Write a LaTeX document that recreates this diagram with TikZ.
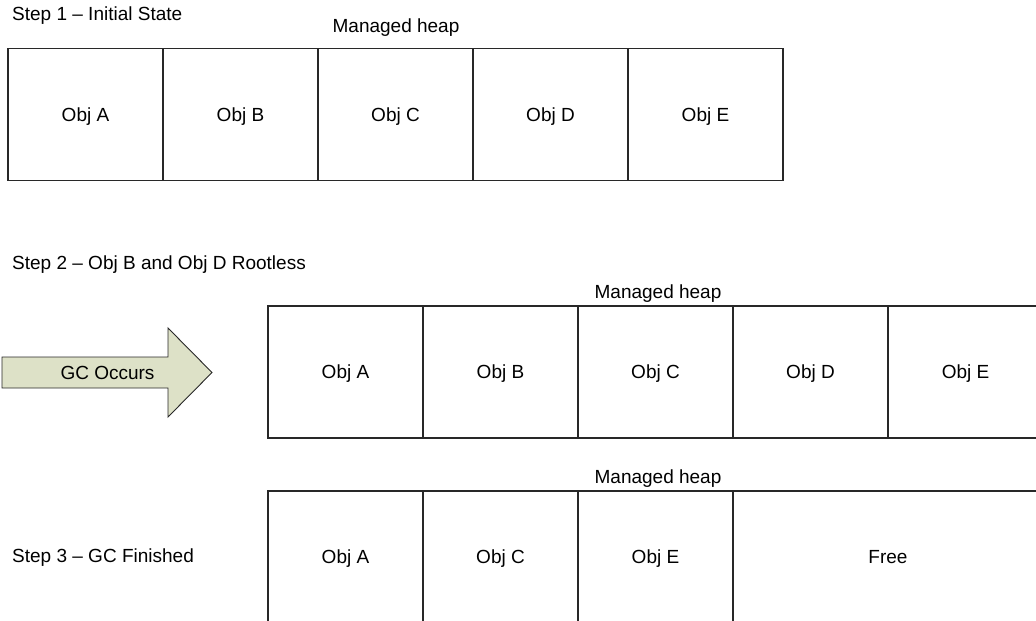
\documentclass[tikz,border=0pt]{standalone}
\usepackage{fontspec}
\setmainfont{Liberation Sans}
\definecolor{arrowfill}{RGB}{221,225,199}
\definecolor{edgegray}{RGB}{40,40,40}
\begin{document}
\begin{tikzpicture}[x=1pt,y=-1pt,
  font=\fontsize{19}{23}\selectfont,
  cell/.style={draw=edgegray, line width=1.1pt, anchor=north west,
    minimum width=155pt, minimum height=132pt, inner sep=0pt, outer sep=0pt,
    text height=13.4pt, text depth=0pt},
  wide/.style={cell, minimum width=310pt},
  heading/.style={anchor=base, inner sep=0pt},
  steplabel/.style={anchor=base west, inner sep=0pt}]
\useasboundingbox (0,0) rectangle (1036,621);
\clip (0,0) rectangle (1036,621);

% Step 1: heap before collection
\node[steplabel] (s1) at (12,20.7) {Step 1 – Initial State};
\node[heading] (h1) at (396,32.3) {Managed heap};
\node[cell] (a1) at (8,48.5)  {Obj A};
\node[cell] (b1) at (163,48.5) {Obj B};
\node[cell] (c1) at (318,48.5) {Obj C};
\node[cell] (d1) at (473,48.5) {Obj D};
\node[cell] (e1) at (628,48.5) {Obj E};

% Step 2: B and D have no roots
\node[steplabel] (s2) at (12,269.3) {Step 2 – Obj B and Obj D Rootless};
\node[heading] (h2) at (658,298.3) {Managed heap};
\node[cell] (a2) at (268,306) {Obj A};
\node[cell] (b2) at (423,306) {Obj B};
\node[cell] (c2) at (578,306) {Obj C};
\node[cell] (d2) at (733,306) {Obj D};
\node[cell] (e2) at (888,306) {Obj E};

% block arrow
\draw[draw=edgegray, line width=0.9pt, fill=arrowfill, line join=miter]
  (2,357) -- (168,357) -- (168,328) -- (212,372.5) -- (168,417)
  -- (168,388) -- (2,388) -- cycle;
\node[anchor=base, inner sep=0pt] (gc) at (107.5,379.5) {GC Occurs};

% Step 3: heap after compaction
\node[steplabel] (s3) at (12,562.3) {Step 3 – GC Finished};
\node[heading] (h3) at (658,483.3) {Managed heap};
\node[cell] (a3) at (268,491) {Obj A};
\node[cell] (c3) at (423,491) {Obj C};
\node[cell] (e3) at (578,491) {Obj E};
\node[wide] (free) at (733,491) {Free};
\end{tikzpicture}
\end{document}
